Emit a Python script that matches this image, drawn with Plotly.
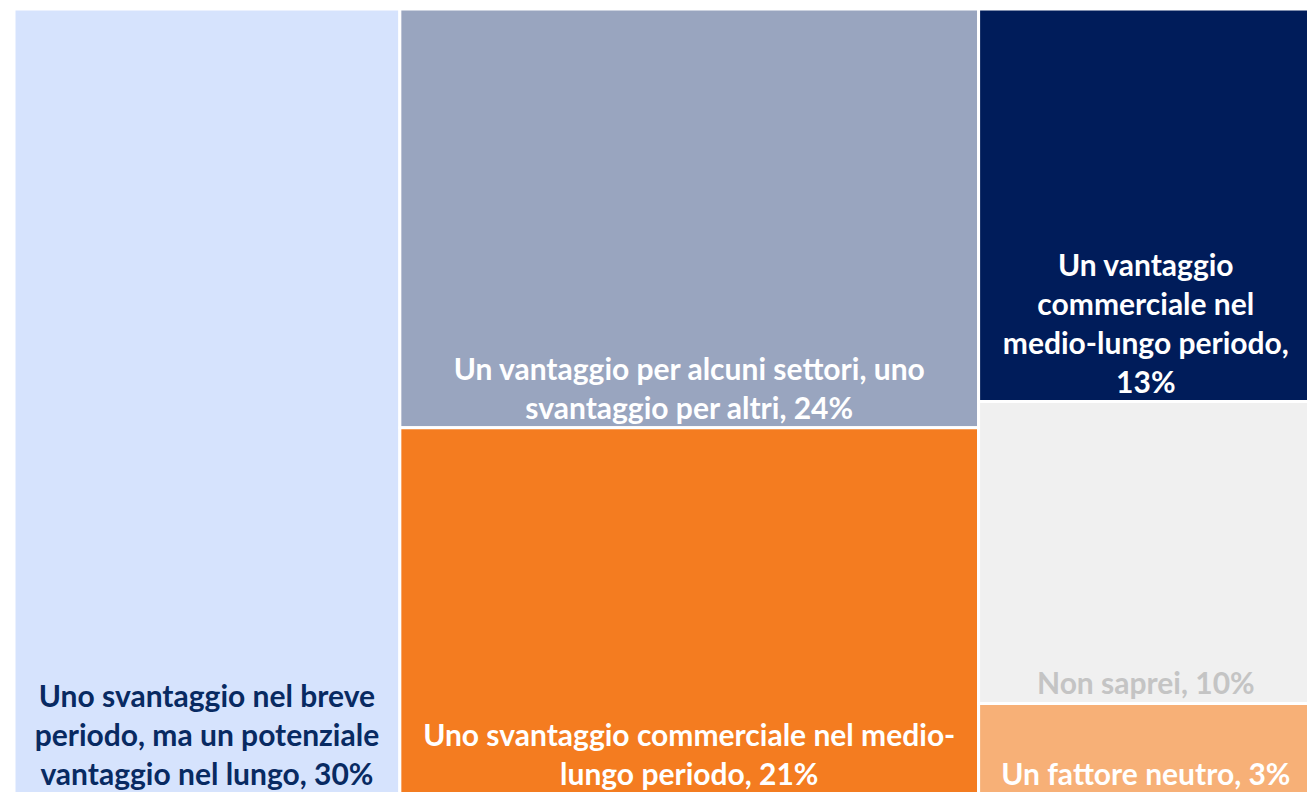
import plotly.graph_objects as go

groups = ["A", "B", "C"]
labels = [
    "Uno svantaggio nel breve<br>periodo, ma un potenziale<br>vantaggio nel lungo, 30%",
    "Un vantaggio per alcuni settori, uno<br>svantaggio per altri, 24%",
    "Uno svantaggio commerciale nel medio-<br>lungo periodo, 21%",
    "Un vantaggio<br>commerciale nel<br>medio-lungo periodo,<br>13%",
    "Non saprei, 10%",
    "Un fattore neutro, 3%",
]
values = [30, 24, 21, 13, 10, 3]
item_groups = ["A", "B", "B", "C", "C", "C"]
colors = ["#d6e3fd", "#99a5bf", "#f47c20", "#001c5a", "#f0f0f0", "#f7b077"]
text_colors = ["#082a62", "#ffffff", "#ffffff", "#ffffff", "#c4c4c4", "#ffffff"]

ids = list(groups) + [f"item{i}" for i in range(len(values))]
parents = [""] * len(groups) + item_groups
group_vals = [sum(v for v, g in zip(values, item_groups) if g == gr) for gr in groups]
vals = group_vals + values
texts = [""] * len(groups) + labels
mcolors = ["#ffffff"] * len(groups) + colors
tcolors = ["#ffffff"] * len(groups) + text_colors

fig = go.Figure(go.Treemap(
    ids=ids,
    labels=ids,
    parents=parents,
    values=vals,
    branchvalues="total",
    sort=False,
    text=texts,
    textinfo="text",
    textposition="bottom center",
    textfont=dict(family="Lato, 'Source Sans Pro', sans-serif", size=30, color=tcolors, weight="bold"),
    marker=dict(colors=mcolors, line=dict(color="#ffffff", width=3), pad=dict(t=0, l=0, r=0, b=0)),
    tiling=dict(packing="slice-dice", pad=0),
    pathbar=dict(visible=False),
    hoverinfo="skip",
))
fig.update_layout(
    width=1313, height=794,
    margin=dict(l=14, r=0, t=9, b=0),
    paper_bgcolor="#ffffff",
)
fig.write_html(
    "out.html",
    config={"displayModeBar": False},
    post_script=(
        "document.body.style.margin='0';"
        "document.body.style.overflow='hidden';"
        "document.documentElement.style.overflow='hidden';"
    ),
)
